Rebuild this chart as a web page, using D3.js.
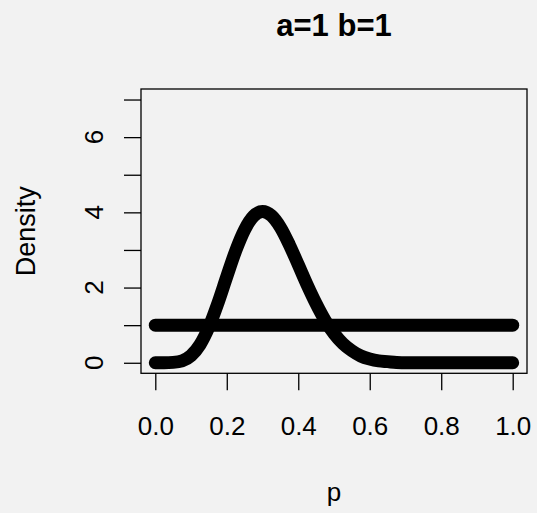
<!DOCTYPE html>
<html>
<head>
<meta charset="utf-8">
<script src="https://cdn.jsdelivr.net/npm/d3@7"></script>
<style>
	body { margin: 0; background: #f2f2f2; }
	text { font-family: "Liberation Sans", Arial, sans-serif; fill: #000; }
</style>
</head>
<body>
<div id="chart"></div>
<script>
// values
var title = "a=1 b=1";
var xTicks = [0, 0.2, 0.4, 0.6, 0.8, 1.0];
var yTicks = [0, 1, 2, 3, 4, 5, 6, 7];
var yLabels = [0, 2, 4, 6];

// posterior density curve
var postP = [0, 0.025, 0.05, 0.075, 0.1, 0.125, 0.15, 0.175, 0.2, 0.225, 0.25, 0.275, 0.3,
	0.325, 0.35, 0.375, 0.4, 0.425, 0.45, 0.475, 0.5, 0.525, 0.55, 0.575, 0.6, 0.625,
	0.65, 0.675, 0.7, 0.75, 0.8, 0.85, 0.9, 0.95, 1.0];
var postDensity = [0, 0, 0.01, 0.05, 0.19, 0.48, 0.95, 1.58, 2.29, 2.98, 3.54, 3.90, 4.02,
	3.91, 3.60, 3.14, 2.61, 2.07, 1.57, 1.13, 0.78, 0.51, 0.32, 0.18, 0.10, 0.05,
	0.03, 0.01, 0, 0, 0, 0, 0, 0, 0];

// flat prior
var priorP = [0, 0.25, 0.5, 0.75, 1.0];
var priorDensity = [1, 1, 1, 1, 1];

var width = 537, height = 513;
var box = { left: 141, right: 527, top: 89, bottom: 373.3 };

var svg = d3.select("#chart").append("svg")
	.attr("width", width)
	.attr("height", height);

var x = d3.scaleLinear().domain([-0.04, 1.04]).range([box.left, box.right]);
var y = d3.scaleLinear().domain([-0.28, 7.28]).range([box.bottom, box.top]);

var line = d3.line()
	.x(function(d) { return x(d[0]); })
	.y(function(d) { return y(d[1]); })
	.curve(d3.curveMonotoneX);

function series(ps, ds) {
	return ps.map(function(p, i) { return [p, ds[i]]; });
}

svg.append("g").selectAll("path")
	.data([series(priorP, priorDensity), series(postP, postDensity)])
	.enter().append("path")
	.attr("d", line)
	.attr("fill", "none")
	.attr("stroke", "#000")
	.attr("stroke-width", 13)
	.attr("stroke-linecap", "round")
	.attr("stroke-linejoin", "round");

// box
svg.append("rect")
	.attr("x", box.left).attr("y", box.top)
	.attr("width", box.right - box.left)
	.attr("height", box.bottom - box.top)
	.attr("fill", "none")
	.attr("stroke", "#000")
	.attr("stroke-width", 1.3);

// x axis
var xAxis = svg.append("g")
	.attr("transform", "translate(0," + box.bottom + ")")
	.call(d3.axisBottom(x).tickValues(xTicks).tickSize(17).tickPadding(26).tickFormat(d3.format(".1f")));
xAxis.select(".domain").remove();
xAxis.selectAll("line").attr("stroke-width", 1.3);
xAxis.selectAll("text")
	.attr("font-size", 26)
	.attr("font-family", "Liberation Sans, Arial, sans-serif")
	.attr("fill", "#000");

// y axis
var yAxis = svg.append("g")
	.attr("transform", "translate(" + box.left + ",0)")
	.call(d3.axisLeft(y).tickValues(yTicks).tickSize(17).tickFormat(""));
yAxis.select(".domain").remove();
yAxis.selectAll("line").attr("stroke-width", 1.3);

svg.append("g").selectAll("text")
	.data(yLabels)
	.enter().append("text")
	.attr("transform", function(d) { return "translate(103," + y(d) + ") rotate(-90)"; })
	.attr("text-anchor", "middle")
	.attr("font-size", 26)
	.text(function(d) { return d; });

// titles
svg.append("text")
	.attr("x", (box.left + box.right) / 2)
	.attr("y", 36)
	.attr("text-anchor", "middle")
	.attr("font-size", 31)
	.attr("font-weight", "bold")
	.text(title);

svg.append("text")
	.attr("x", (box.left + box.right) / 2)
	.attr("y", 501)
	.attr("text-anchor", "middle")
	.attr("font-size", 26)
	.text("p");

svg.append("text")
	.attr("transform", "translate(35," + (box.top + box.bottom) / 2 + ") rotate(-90)")
	.attr("text-anchor", "middle")
	.attr("font-size", 27)
	.text("Density");
</script>
</body>
</html>
